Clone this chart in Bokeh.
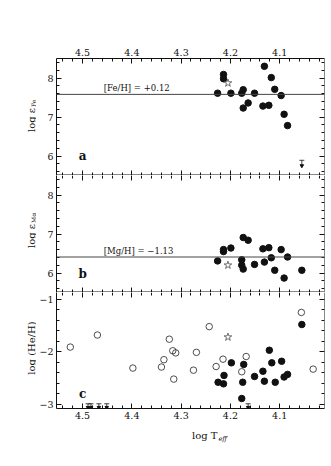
import numpy as np
from math import pi
from bokeh.plotting import figure
from bokeh.models import Range1d, LinearAxis, SingleIntervalTicker, Span, Label
from bokeh.layouts import column, row
from bokeh.core.properties import value
from bokeh.embed import file_html
from bokeh.resources import INLINE

# ---------------- data ----------------
# panel a: log eps(Fe)
fe_x = [4.226, 4.214, 4.214, 4.199, 4.177, 4.174, 4.174, 4.164, 4.151, 4.131,
        4.134, 4.122, 4.117, 4.110, 4.097, 4.091, 4.084]
fe_y = [7.61, 8.09, 7.98, 7.61, 7.61, 7.70, 7.23, 7.36, 7.61, 8.30,
        7.28, 7.30, 8.01, 7.71, 7.55, 7.07, 6.78]
fe_star_x = [4.205]
fe_star_y = [7.87]
fe_lim_x = [4.055]
fe_lim_y = [5.89]
fe_line = 7.58
fe_text = "[Fe/H] = +0.12"

# panel b: log eps(Mg)
mg_x = [4.226, 4.214, 4.214, 4.199, 4.177, 4.177, 4.174, 4.174, 4.164, 4.151,
        4.134, 4.122, 4.131, 4.117, 4.110, 4.097, 4.091, 4.084, 4.055]
mg_y = [6.31, 6.60, 6.55, 6.64, 6.34, 6.20, 6.10, 6.91, 6.84, 6.22,
        6.62, 6.65, 6.28, 6.39, 6.07, 6.60, 5.87, 6.41, 6.07]
mg_star_x = [4.205]
mg_star_y = [6.20]
mg_line = 6.41
mg_text = "[Mg/H] = \u22121.13"

# panel c: log (He/H)
he_open_x = [4.525, 4.470, 4.398, 4.340, 4.335, 4.324, 4.317, 4.311, 4.315, 4.275,
             4.269, 4.243, 4.229, 4.215, 4.177, 4.168, 4.056, 4.032]
he_open_y = [-1.91, -1.68, -2.31, -2.29, -2.15, -1.76, -1.98, -2.02, -2.52, -2.35,
             -2.01, -1.52, -2.28, -2.14, -2.38, -2.09, -1.25, -2.33]
he_fill_x = [4.225, 4.214, 4.213, 4.198, 4.175, 4.173, 4.177, 4.151, 4.134, 4.131,
             4.121, 4.116, 4.109, 4.096, 4.091, 4.084, 4.055]
he_fill_y = [-2.58, -2.61, -2.45, -2.21, -2.58, -2.24, -2.89, -2.47, -2.37, -2.56,
             -1.97, -2.21, -2.58, -2.18, -2.48, -2.43, -1.48]
he_star_x = [4.205]
he_star_y = [-1.72]
he_lim_x = [4.489, 4.483, 4.467, 4.451, 4.164]
he_lim_y = [-2.99, -2.99, -2.99, -2.99, -2.99]

# ---------------- style ----------------
FONT = "DejaVu Serif"
X_START, X_END = 4.553, 4.009
INK = "#111111"
FW = 268           # frame width
BL, BR = 18, 4     # left / right borders of the panels
LABW = 36          # width of the y-label strip
HA, HB, HC = 117, 117, 116
TOP, BOT = 58, 20
XLABH = 25
TOTAL_H = TOP + HA + HB + HC + BOT + XLABH


def style_axis(ax, labels, line=True):
    ax.major_tick_in = 5
    ax.major_tick_out = 0
    ax.minor_tick_in = 3
    ax.minor_tick_out = 0
    ax.major_tick_line_color = INK
    ax.minor_tick_line_color = INK
    ax.axis_line_color = INK if line else None
    ax.major_label_text_font = FONT
    ax.axis_label = None
    if labels:
        ax.major_label_text_color = INK
        ax.major_label_text_font_size = "9.5px"
        ax.major_label_standoff = 3
    else:
        ax.major_label_text_color = None
        ax.major_label_standoff = 0


def make_fig(yr, fh, top_labels, bottom_labels, min_top, min_bottom):
    p = figure(frame_width=FW, frame_height=fh,
               x_range=Range1d(X_START, X_END), y_range=Range1d(*yr),
               output_backend="svg", toolbar_location=None,
               x_axis_location=None, y_axis_location=None,
               min_border_left=BL, min_border_right=BR,
               min_border_top=min_top, min_border_bottom=min_bottom)
    p.outline_line_color = None
    p.grid.visible = False
    half_px = 0.5 * (yr[1] - yr[0]) / fh
    # x axes
    top = LinearAxis(ticker=SingleIntervalTicker(interval=0.1, num_minor_ticks=5))
    style_axis(top, top_labels, top_labels)
    if not top_labels:
        top.fixed_location = yr[1]
    p.add_layout(top, "above")
    bot = LinearAxis(ticker=SingleIntervalTicker(interval=0.1, num_minor_ticks=5))
    style_axis(bot, bottom_labels, bottom_labels)
    if not bottom_labels:
        bot.fixed_location = yr[0]
        # shared border with the panel below, drawn inside the last pixel row
        p.add_layout(Span(location=yr[0] + half_px, dimension="width",
                          line_color=INK, line_width=1))
    p.add_layout(bot, "below")
    # y axes
    left = LinearAxis(ticker=SingleIntervalTicker(interval=1, num_minor_ticks=5))
    style_axis(left, True)
    p.add_layout(left, "left")
    right = LinearAxis(ticker=SingleIntervalTicker(interval=1, num_minor_ticks=5))
    style_axis(right, False)
    right.fixed_location = X_END
    p.add_layout(right, "right")
    return p


def add_limits(p, xs, ys, length):
    tips = [y - length for y in ys]
    p.segment(x0=xs, y0=ys, x1=xs, y1=tips, line_color=INK, line_width=0.8)
    p.scatter(xs, ys, marker="dash", size=5, line_color=INK, line_width=0.8)
    p.scatter(xs, tips, marker="inverted_triangle", size=3.5, color=INK)


def panel_letter(p, txt, y):
    p.add_layout(Label(x=4.5, y=y, text=txt, text_align="center", text_baseline="middle",
                       text_font=FONT, text_font_size="12px", text_font_style="bold",
                       text_color=INK))


def blank_fig(w, h):
    f = figure(frame_width=w, frame_height=h, x_range=Range1d(0, w), y_range=Range1d(0, h),
               output_backend="svg", toolbar_location=None,
               x_axis_location=None, y_axis_location=None,
               min_border=0)
    f.outline_line_color = None
    f.grid.visible = False
    return f


# ---------------- panel a ----------------
pa = make_fig((5.5, 8.5), HA, True, False, TOP, 0)
pa.add_layout(Span(location=fe_line, dimension="width", line_color="#444444", line_width=1))
pa.scatter(fe_x, fe_y, size=6.5, color=INK)
pa.scatter(fe_star_x, fe_star_y, marker="star", size=8, fill_color="white",
           line_color="#333333", line_width=0.7)
add_limits(pa, fe_lim_x, fe_lim_y, 0.14)
pa.add_layout(Label(x=4.457, y=fe_line, y_offset=1.5, text=fe_text, text_align="left",
                    text_baseline="bottom", text_font=FONT, text_font_size="8.5px",
                    text_color=INK))
panel_letter(pa, "a", 6.0)

# ---------------- panel b ----------------
pb = make_fig((5.5, 8.5), HB, False, False, 0, 0)
pb.add_layout(Span(location=mg_line, dimension="width", line_color="#444444", line_width=1))
pb.scatter(mg_x, mg_y, size=6.5, color=INK)
pb.scatter(mg_star_x, mg_star_y, marker="star", size=8, fill_color="white",
           line_color="#333333", line_width=0.7)
pb.add_layout(Label(x=4.457, y=mg_line, y_offset=1.5, text=mg_text, text_align="left",
                    text_baseline="bottom", text_font=FONT, text_font_size="8.5px",
                    text_color=INK))
panel_letter(pb, "b", 5.97)

# ---------------- panel c ----------------
pc = make_fig((-3.08, -0.87), HC, False, True, 0, BOT)
pc.scatter(he_open_x, he_open_y, size=6.5, fill_color=None, line_color="#222222", line_width=0.8)
pc.scatter(he_fill_x, he_fill_y, size=6.5, color=INK)
pc.scatter(he_star_x, he_star_y, marker="star", size=8, fill_color="white",
           line_color="#333333", line_width=0.7)
add_limits(pc, he_lim_x, he_lim_y, 0.07)
panel_letter(pc, "c", -2.81)

# ---------------- axis titles (in pixel strips) ----------------
ylab = blank_fig(LABW, TOTAL_H)
ya_joint = TOTAL_H - (TOP + 49.5)
yb_joint = TOTAL_H - (TOP + HA + 48.5)
yc_mid = TOTAL_H - (TOP + HA + HB + 55.5)
for yj, sub in ((ya_joint, "Fe"), (yb_joint, "Mg")):
    ylab.text(x=[30.5], y=[yj], text=["log \u03b5"], angle=pi / 2,
              text_align="right", text_baseline="middle", text_font=value(FONT),
              text_font_size="10px", text_color=INK)
    ylab.text(x=[33], y=[yj + 1], text=[sub], angle=pi / 2,
              text_align="left", text_baseline="middle", text_font=value(FONT),
              text_font_size="6px", text_color=INK)
ylab.text(x=[30.5], y=[yc_mid], text=["log (He/H)"], angle=pi / 2,
          text_align="center", text_baseline="middle", text_font=value(FONT),
          text_font_size="10px", text_color=INK)

xlab = blank_fig(BL + FW + BR, XLABH)
xlab.text(x=[BL + 143], y=[XLABH - 7], text=["log T"], text_align="right",
          text_baseline="middle", text_font=value(FONT), text_font_size="10px",
          text_color=INK)
xlab.text(x=[BL + 144], y=[XLABH - 10], text=["eff"], text_align="left",
          text_baseline="middle", text_font=value(FONT), text_font_size="6.5px",
          text_font_style="italic", text_color=INK)

layout = row(ylab, column(pa, pb, pc, xlab, spacing=0), spacing=0)
open("out.html", "w").write(file_html(layout, INLINE))
